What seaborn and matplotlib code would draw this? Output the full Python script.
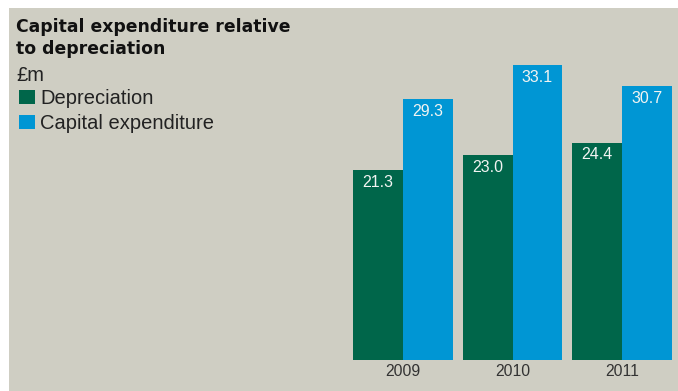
import matplotlib
matplotlib.use("Agg")
import matplotlib.pyplot as plt
import pandas as pd
import seaborn as sns
from matplotlib.patches import Rectangle

# chart data
years = ["2009", "2010", "2011"]
series = ["Depreciation", "Capital expenditure"]
depreciation = [21.3, 23.0, 24.4]
capex = [29.3, 33.1, 30.7]

BG = "#cfcec3"
GREEN = "#00664a"
BLUE = "#0096d4"

df = pd.DataFrame({
    "year": years * 2,
    "series": [series[0]] * len(years) + [series[1]] * len(years),
    "value": depreciation + capex,
})

plt.rcParams["font.family"] = ["Liberation Sans", "DejaVu Sans"]

W, H = 678, 391
fig = plt.figure(figsize=(W / 100, H / 100), dpi=100, facecolor="white")
fig.patches.append(Rectangle((9 / W, 0), 1, 1 - 8 / H, transform=fig.transFigure,
                             facecolor=BG, edgecolor="none", zorder=-5))

ax = fig.add_axes([340 / W, 31 / H, 338 / W, 360 / H])
sns.barplot(data=df, x="year", y="value", hue="series", palette=[GREEN, BLUE],
            width=0.91, saturation=1, ax=ax)
ax.set_xlim(-63 / 109.5, 275 / 109.5)
ax.set_ylim(0, 360 / 8.91)
ax.set_facecolor("none")
for s in ax.spines.values():
    s.set_visible(False)
ax.set_yticks([])
ax.set_xlabel("")
ax.set_ylabel("")
ax.tick_params(axis="x", length=0, pad=3.1, labelsize=11.3, labelcolor="#333333")

# value labels inside the top of each bar
for cont in ax.containers:
    for bar in cont:
        h = bar.get_height()
        ax.annotate(f"{h:.1f}", (bar.get_x() + bar.get_width() / 2, h),
                    xytext=(0, -12), textcoords="offset points",
                    ha="center", va="baseline", fontsize=11.5, color="#f2f4f2")

sns.move_legend(ax, "upper left", bbox_to_anchor=(19 / W, 1 - 89 / H),
                bbox_transform=fig.transFigure, frameon=False, title=None,
                fontsize=14.5, handlelength=0.8, handleheight=0.7,
                handletextpad=0.25, labelspacing=0.3, borderpad=0, borderaxespad=0)
for t in ax.get_legend().get_texts():
    t.set_color("#222222")

fig.text(16 / W, 1 - 32 / H, "Capital expenditure relative", fontsize=12.4,
         fontweight="bold", family="DejaVu Sans", va="baseline", color="#111111")
fig.text(16 / W, 1 - 54 / H, "to depreciation", fontsize=12.4,
         fontweight="bold", family="DejaVu Sans", va="baseline", color="#111111")
fig.text(16.5 / W, 1 - 81 / H, "£m", fontsize=14.5, va="baseline", color="#222222")

fig.savefig("out.png", dpi=100, facecolor="white")
